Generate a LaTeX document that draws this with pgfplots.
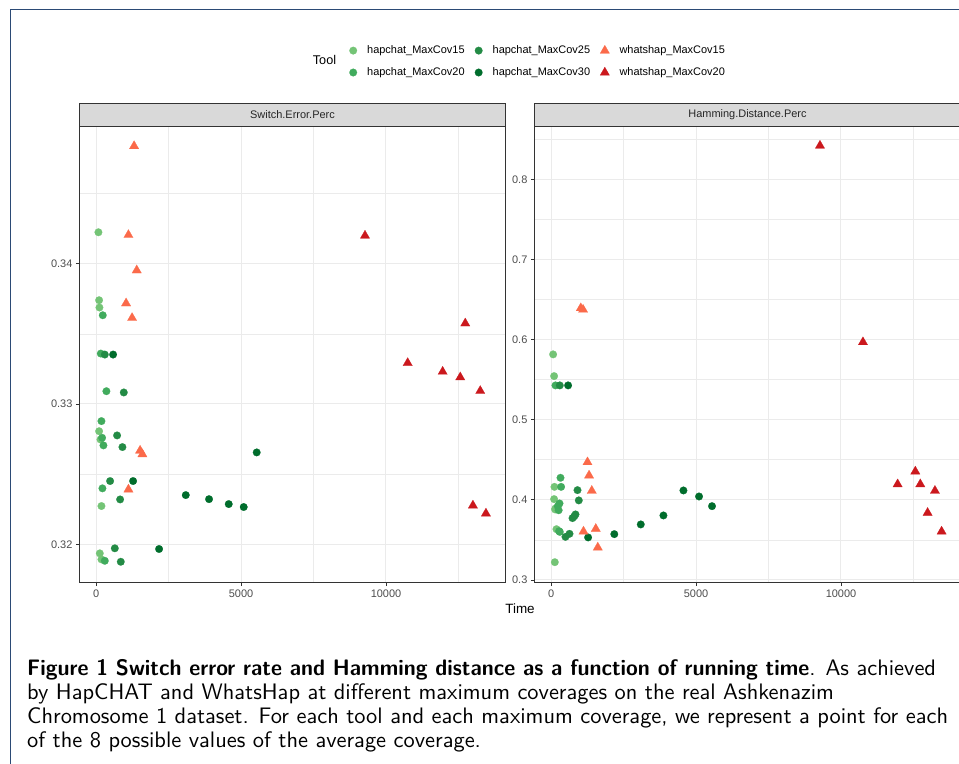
\documentclass[border=0pt]{standalone}
\usepackage{fontspec}
\setmainfont{Liberation Sans}
\usepackage{graphicx}
\usepackage{pgfplots}
\pgfplotsset{compat=1.18}

\definecolor{gA}{HTML}{74C476}
\definecolor{gB}{HTML}{41AB5D}
\definecolor{gC}{HTML}{238B45}
\definecolor{gD}{HTML}{006D2C}
\definecolor{rA}{HTML}{FB6A4A}
\definecolor{rB}{HTML}{CB181D}
\definecolor{gridc}{HTML}{EBEBEB}
\definecolor{framec}{HTML}{333333}
\definecolor{tickc}{HTML}{4D4D4D}
\definecolor{stripc}{HTML}{D9D9D9}
\definecolor{pagec}{HTML}{2B4A75}

\pgfplotsset{
  hc15/.style={only marks, mark=*, mark size=3.8bp, color=gA, mark options={line width=0.2bp}},
  hc20/.style={only marks, mark=*, mark size=3.8bp, color=gB, mark options={line width=0.2bp}},
  hc25/.style={only marks, mark=*, mark size=3.8bp, color=gC, mark options={line width=0.2bp}},
  hc30/.style={only marks, mark=*, mark size=3.8bp, color=gD, mark options={line width=0.2bp}},
  ws15/.style={only marks, mark=triangle*, mark size=5.4bp, color=rA, mark options={line width=0.2bp}},
  ws20/.style={only marks, mark=triangle*, mark size=5.4bp, color=rB, mark options={line width=0.2bp}},
  facet/.style={
    scale only axis, width=426.4bp, height=456.7bp,
    xmin=-580, xmax=14130,
    scaled x ticks=false, scaled y ticks=false,
    xtick={0,5000,10000}, xticklabels={0,5000,10000},
    minor xtick={2500,7500,12500},
    grid=both,
    major grid style={color=gridc, line width=1bp},
    minor grid style={color=gridc, line width=0.55bp},
    axis line style={color=framec, line width=0.9bp},
    tick align=outside, major tick length=3.4bp, minor tick length=0pt,
    tick style={color=framec, line width=0.8bp},
    xtick pos=bottom, ytick pos=left,
    ticklabel style={font=\fontsize{11}{13}\selectfont, text=tickc},
  },
}

\begin{document}
\begin{tikzpicture}
\path[use as bounding box] (0,0) rectangle (959bp,764bp);
\draw[pagec, line width=1bp] (10.7bp,0bp) -- (10.7bp,754.7bp) -- (959bp,754.7bp);

\begin{axis}[facet, name=L, at={(79.3bp,181.3bp)}, anchor=south west,
  ymin=0.31727, ymax=0.3498,
  ytick={0.32,0.33,0.34}, yticklabels={0.32,0.33,0.34},
  minor ytick={0.325,0.335,0.345},
  legend columns=3, legend cell align=left,
  legend image code/.code={\path[draw=none, fill=none] (-4bp,-3bp) rectangle (4bp,3bp); \draw[#1] plot coordinates {(0bp,0bp)};},
  legend style={draw=none, fill=none, inner sep=0pt, at={(0.6325,1.1773)}, anchor=north west,
    font=\fontsize{11}{13}\selectfont, row sep=11.5bp, cells={anchor=west},
    nodes={inner xsep=0pt, inner ysep=0pt, text height=8bp, text depth=2bp},
    /tikz/every odd column/.append style={column sep=10bp},
    /tikz/every even column/.append style={column sep=10bp}},
]
\addlegendimage{hc15}\addlegendentry{hapchat\_MaxCov15}
\addlegendimage{hc25}\addlegendentry{hapchat\_MaxCov25}
\addlegendimage{ws15}\addlegendentry{whatshap\_MaxCov15}
\addlegendimage{hc20}\addlegendentry{hapchat\_MaxCov20}
\addlegendimage{hc30}\addlegendentry{hapchat\_MaxCov30}
\addlegendimage{ws20}\addlegendentry{whatshap\_MaxCov20}

\addplot[hc15, forget plot] coordinates {
  (80,0.34223) (103,0.33739) (115,0.33687) (103,0.32806)
  (150,0.32747) (184,0.32273) (127,0.31936) (184,0.31893)};
\addplot[hc20, forget plot] coordinates {
  (162,0.33359) (230,0.33632) (355,0.33091) (184,0.32878)
  (207,0.32759) (253,0.32705) (218,0.32399) (300,0.31883)};
\addplot[hc25, forget plot] coordinates {
  (300,0.33352) (955,0.33082) (724,0.32776) (908,0.32693)
  (483,0.32451) (828,0.32320) (645,0.31972) (851,0.31876)};
\addplot[hc30, forget plot] coordinates {
  (586,0.33352) (5540,0.32655) (1276,0.32451) (3093,0.32351)
  (3896,0.32322) (4575,0.32287) (5092,0.32266) (2172,0.31967)};
\addplot[ws15, forget plot] coordinates {
  (1310,0.34837) (1115,0.34204) (1402,0.33952) (1034,0.33717)
  (1241,0.33613) (1517,0.32668) (1597,0.32642) (1115,0.32391)};
\addplot[ws20, forget plot] coordinates {
  (9276,0.34199) (12735,0.33574) (10748,0.33292) (11955,0.33230)
  (12562,0.33190) (13252,0.33093) (12999,0.32277) (13448,0.32220)};
\end{axis}

\begin{axis}[facet, name=R, at={(534.3bp,181.3bp)}, anchor=south west,
  ymin=0.2966, ymax=0.8665,
  ytick={0.3,0.4,0.5,0.6,0.7,0.8}, yticklabels={0.3,0.4,0.5,0.6,0.7,0.8},
  minor ytick={0.35,0.45,0.55,0.65,0.75,0.85},
]
\addplot[hc15] coordinates {
  (69,0.5815) (103,0.5544) (115,0.4162) (103,0.4009)
  (150,0.3893) (138,0.3880) (184,0.3634) (128,0.3222)};
\addplot[hc20] coordinates {
  (150,0.5428) (324,0.4275) (345,0.4162) (290,0.3955)
  (230,0.3920) (260,0.3870) (276,0.3609) (300,0.3600)};
\addplot[hc25] coordinates {
  (300,0.5428) (910,0.4121) (955,0.3993) (841,0.3818)
  (738,0.3772) (800,0.3795) (634,0.3576) (496,0.3538)};
\addplot[hc30] coordinates {
  (586,0.5428) (4565,0.4117) (5103,0.4042) (5551,0.3921)
  (3875,0.3805) (3093,0.3693) (2180,0.3572) (1276,0.3531)};
\addplot[ws15] coordinates {
  (1024,0.6392) (1103,0.6373) (1255,0.4470) (1310,0.4304)
  (1403,0.4113) (1117,0.3605) (1541,0.3638) (1610,0.3405)};
\addplot[ws20] coordinates {
  (9275,0.8420) (10758,0.5968) (11954,0.4195) (12564,0.4354)
  (12736,0.4195) (13241,0.4113) (12988,0.3838) (13471,0.3605)};
\end{axis}

\foreach \ax/\lab in {L/Switch.Error.Perc, R/Hamming.Distance.Perc}{
  \draw[fill=stripc, draw=framec, line width=0.9bp] (\ax.north west) rectangle ([yshift=23bp]\ax.north east);
  \node[font=\fontsize{11}{13}\selectfont, text=black!85, inner sep=0pt] at ([yshift=11.5bp]\ax.north) {\lab};
}

\node[font=\fontsize{12.7}{14}\selectfont, anchor=west, inner sep=0pt] at (312.7bp,704bp) {Tool};
\node[font=\fontsize{13.5}{15}\selectfont, inner sep=0pt] at (520bp,155bp) {Time};

\node[anchor=north west, inner sep=0pt] at (27bp,105bp) {\scalebox{2.25}{\sffamily\fontsize{10}{10.67}\selectfont
\begin{tabular}[t]{@{}l@{}}
\scalebox{0.955}[1]{\bfseries Figure 1 Switch error rate and Hamming distance as a function of running time}. As achieved\\
by HapCHAT and WhatsHap at different maximum coverages on the real Ashkenazim\\
Chromosome 1 dataset. For each tool and each maximum coverage, we represent a point for each\\
of the 8 possible values of the average coverage.
\end{tabular}}};
\end{tikzpicture}
\end{document}
